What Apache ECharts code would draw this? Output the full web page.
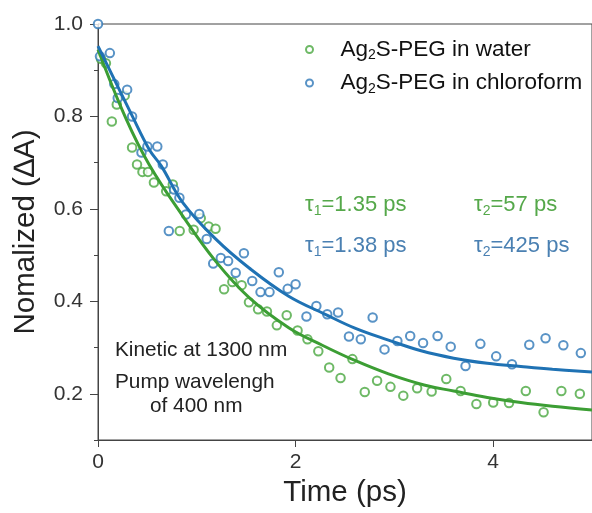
<!DOCTYPE html>
<html>
<head>
<meta charset="utf-8">
<script src="https://cdn.jsdelivr.net/npm/echarts@6/dist/echarts.min.js"></script>
<style>
  html, body { margin: 0; padding: 0; background: #fff; }
  #kineticChart { width: 592px; height: 513px; }
</style>
</head>
<body>
<div id="kineticChart"></div>
<script>
  // measured points, Ag2S-PEG in water
  const waterTime = [0.03, 0.08, 0.14, 0.19, 0.27, 0.345, 0.395, 0.45, 0.506, 0.566, 0.69, 0.757, 0.827, 0.968, 1.04,
    1.12, 1.19, 1.276, 1.36, 1.454, 1.528, 1.62, 1.71, 1.81, 1.91, 2.02, 2.12, 2.23, 2.34, 2.455,
    2.575, 2.7, 2.825, 2.96, 3.09, 3.23, 3.377, 3.525, 3.67, 3.83, 4.0, 4.16, 4.33, 4.51, 4.69, 4.877];
  const waterDA = [0.925, 0.915, 0.789, 0.826, 0.845, 0.733, 0.696, 0.68, 0.68, 0.657, 0.638, 0.653, 0.552, 0.555, 0.58,
    0.562, 0.557, 0.426, 0.442, 0.435, 0.398, 0.383, 0.378, 0.348, 0.37, 0.337, 0.318, 0.292, 0.257, 0.234,
    0.275, 0.204, 0.228, 0.215, 0.196, 0.212, 0.205, 0.232, 0.206, 0.178, 0.181, 0.18, 0.206, 0.16, 0.206, 0.2];

  // measured points, Ag2S-PEG in chloroform
  const chloroTime = [0, 0.02, 0.12, 0.165, 0.2, 0.295, 0.345, 0.44, 0.5, 0.6, 0.656, 0.717, 0.77, 0.824, 0.89,
    1.025, 1.1, 1.166, 1.243, 1.317, 1.394, 1.477, 1.561, 1.645, 1.736, 1.83, 1.92, 2.0, 2.11, 2.21,
    2.32, 2.43, 2.54, 2.66, 2.78, 2.9, 3.03, 3.16, 3.29, 3.437, 3.57, 3.72, 3.87, 4.03, 4.19, 4.365, 4.53, 4.71, 4.887];
  const chloroDA = [1.0, 0.93, 0.937, 0.87, 0.84, 0.858, 0.8, 0.722, 0.735, 0.735, 0.696, 0.552, 0.642, 0.624, 0.588,
    0.589, 0.535, 0.482, 0.494, 0.487, 0.462, 0.504, 0.444, 0.42, 0.42, 0.463, 0.427, 0.437, 0.367, 0.39,
    0.372, 0.376, 0.324, 0.318, 0.365, 0.296, 0.314, 0.325, 0.31, 0.325, 0.302, 0.26, 0.308, 0.281, 0.264, 0.306, 0.32, 0.305, 0.288];

  // fit curves
  const waterFitTime = [0, 0.28, 0.52, 0.86, 1.19, 1.53, 1.93, 2.27, 2.6, 2.94, 3.3, 3.6, 3.94, 4.28, 4.6, 5.0];
  const waterFitDA = [0.945, 0.797, 0.695, 0.584, 0.487, 0.408, 0.343, 0.305, 0.272, 0.243, 0.219, 0.206, 0.192, 0.181, 0.173, 0.165];
  const chloroFitTime = [0, 0.34, 0.52, 0.64, 0.86, 1.19, 1.53, 1.93, 2.3, 2.6, 2.94, 3.27, 3.6, 3.94, 4.28, 4.6, 5.0];
  const chloroFitDA = [0.952, 0.804, 0.728, 0.693, 0.613, 0.535, 0.472, 0.411, 0.372, 0.342, 0.316, 0.293, 0.277, 0.266, 0.259, 0.253, 0.247];

  const xTicks = [0, 2, 4];
  const yMajorTicks = [0.2, 0.4, 0.6, 0.8, 1.0];

  const seriesNames = ['Ag2S-PEG in water', 'Ag2S-PEG in chloroform'];

  const zip = (xs, ys) => xs.map((x, i) => [x, ys[i]]);

  let myChart = null;

  function initChart() {
    const dom = document.getElementById('kineticChart');
    if (dom) {
      myChart = echarts.init(dom);
      setOption();
    }
  }

  function setOption() {
    const green = '#4aa840';
    const blue = '#2f78b8';
    const greenText = '#55a84a';
    const blueText = '#4a80b2';
    const font = 'Liberation Sans, Arial, sans-serif';
    const axisColor = '#444';

    // graphic text uses fill, not color
    const tauRich = (color) => ({
      t: { fontSize: 22, fill: color, fontFamily: font },
      s: { fontSize: 14, fill: color, fontFamily: font, padding: [12, 0, 0, 0] },
    });

    const noteStyle = (text, x, y) => ({
      type: 'text',
      left: x,
      top: y,
      style: { text: text, fontSize: 20.8, fill: '#222', fontFamily: font },
    });

    const options = {
      animation: false,
      grid: {
        left: 98,
        top: 24,
        right: -3,
        bottom: 72,
        show: true,
        borderColor: axisColor,
        borderWidth: 1,
      },
      legend: {
        data: seriesNames,
        orient: 'vertical',
        left: 300,
        top: 33,
        itemWidth: 52,
        itemHeight: 7,
        itemGap: 9,
        icon: 'emptyCircle',
        formatter: (name) => '{n|Ag}{s|2}{n|' + name.slice(3) + '}',
        textStyle: {
          rich: {
            n: { fontSize: 22.5, color: '#111', fontFamily: font },
            s: { fontSize: 14, color: '#111', fontFamily: font, padding: [12, 0, 0, 0] },
          },
        },
      },
      xAxis: {
        type: 'value',
        min: 0,
        max: 5,
        name: 'Time (ps)',
        nameLocation: 'middle',
        nameGap: 38,
        nameTextStyle: { fontSize: 29.5, color: '#222', fontFamily: font },
        splitLine: { show: false },
        axisLine: { lineStyle: { color: axisColor } },
        axisTick: { customValues: xTicks, length: 7, lineStyle: { color: axisColor } },
        axisLabel: { customValues: xTicks, fontSize: 21, color: '#333', margin: 12, fontFamily: font },
      },
      yAxis: [
        {
          type: 'value',
          min: 0.1,
          max: 1.0,
          interval: 0.1,
          name: 'Nomalized (∆A)',
          nameLocation: 'middle',
          nameGap: 57,
          nameTextStyle: { fontSize: 29.5, color: '#222', fontFamily: font },
          splitLine: { show: false },
          axisLine: { show: true, lineStyle: { color: axisColor } },
          axisTick: { length: 4, lineStyle: { color: axisColor } },
          axisLabel: {
            customValues: yMajorTicks,
            formatter: (v) => v.toFixed(1),
            fontSize: 21,
            color: '#333',
            margin: 15,
            fontFamily: font,
          },
        },
        {
          type: 'value',
          min: 0.1,
          max: 1.0,
          position: 'left',
          splitLine: { show: false },
          axisLine: { show: false },
          axisTick: { customValues: yMajorTicks, length: 8, lineStyle: { color: axisColor } },
          axisLabel: { show: false },
        },
      ],
      graphic: [
        {
          type: 'text',
          left: 305,
          top: 194,
          style: { text: '{t|τ}{s|1}{t|=1.35 ps}', rich: tauRich(greenText) },
        },
        {
          type: 'text',
          left: 474,
          top: 194,
          style: { text: '{t|τ}{s|2}{t|=57 ps}', rich: tauRich(greenText) },
        },
        {
          type: 'text',
          left: 305,
          top: 235,
          style: { text: '{t|τ}{s|1}{t|=1.38 ps}', rich: tauRich(blueText) },
        },
        {
          type: 'text',
          left: 474,
          top: 235,
          style: { text: '{t|τ}{s|2}{t|=425 ps}', rich: tauRich(blueText) },
        },
        noteStyle('Kinetic at 1300 nm', 115, 340),
        noteStyle('Pump wavelengh', 115, 372),
        noteStyle('of 400 nm', 150, 396),
      ],
      series: [
        {
          name: seriesNames[0],
          type: 'scatter',
          data: zip(waterTime, waterDA),
          symbol: 'emptyCircle',
          symbolSize: 8.5,
          itemStyle: { color: green, borderColor: green, borderWidth: 1.5 },
        },
        {
          name: seriesNames[1],
          type: 'scatter',
          data: zip(chloroTime, chloroDA),
          symbol: 'emptyCircle',
          symbolSize: 8.5,
          itemStyle: { color: blue, borderColor: blue, borderWidth: 1.5 },
        },
        {
          name: 'water fit',
          type: 'line',
          data: zip(waterFitTime, waterFitDA),
          smooth: 0.4,
          showSymbol: false,
          lineStyle: { color: '#3c9e34', width: 3 },
          z: 3,
        },
        {
          name: 'chloroform fit',
          type: 'line',
          data: zip(chloroFitTime, chloroFitDA),
          smooth: 0.4,
          showSymbol: false,
          lineStyle: { color: '#1f72b4', width: 3 },
          z: 3,
        },
      ],
    };
    if (myChart) {
      myChart.setOption(options);
    }
  }

  initChart();
</script>
</body>
</html>
